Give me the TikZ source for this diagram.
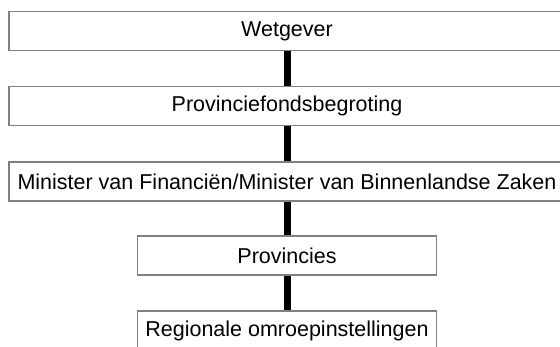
\documentclass[tikz,border=0pt]{standalone}
\usepackage{fontspec}
\setmainfont{Liberation Sans}
\usetikzlibrary{arrows}
\tikzset{
  {orgbox/.style}={rectangle, draw=black!50, line width=1.4pt,
                inner sep=0, text centered, minimum height=39pt,
                font=\fontsize{21.5}{24}\selectfont},
  {wide box/.style}={orgbox, minimum width=556pt},
  {small box/.style}={orgbox, minimum width=299pt},
  {link/.style}={draw, black, line width=7pt},
}
\begin{document}
\begin{tikzpicture}[x=1pt,y=1pt]
    \useasboundingbox (0,0) rectangle (560,-346);
    \node[wide box] (wetgever) at (287,-31) {Wetgever};
    \node[wide box] (begroting) at (287,-106) {Provinciefondsbegroting};
    \node[wide box] (minister) at (287,-181.5)
      {Minister van Financiën/Minister van Binnenlandse Zaken};
    \node[small box] (provincies) at (287,-255.5) {Provincies};
    \node[small box] (omroepen) at (287,-330.5) {Regionale omroepinstellingen};
    \draw[link] (wetgever) -- (begroting);
    \draw[link] (begroting) -- (minister);
    \draw[link] (minister) -- (provincies);
    \draw[link] (provincies) -- (omroepen);
\end{tikzpicture}
\end{document}
